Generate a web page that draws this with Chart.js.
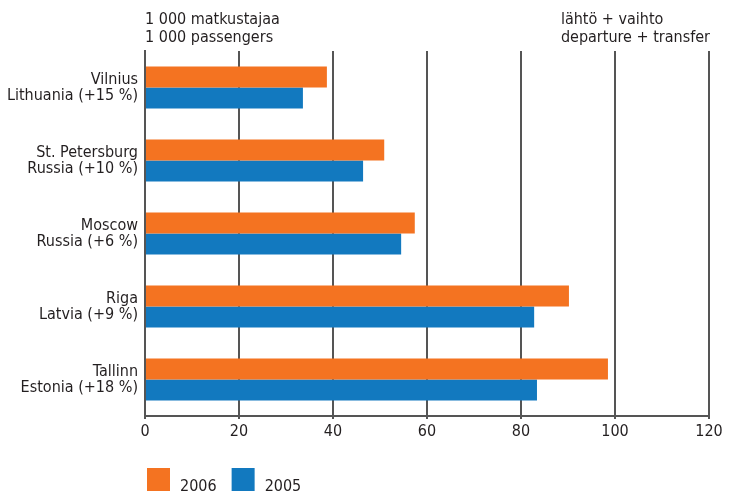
<!DOCTYPE html>
<html>
<head>
<meta charset="utf-8">
<script src="https://cdn.jsdelivr.net/npm/chart.js@4.4.1/dist/chart.umd.min.js"></script>
<style>
  html, body { margin: 0; padding: 0; background: #ffffff; }
  #wrap { width: 743px; height: 497px; position: relative; }
</style>
</head>
<body>
<div id="wrap"><canvas id="c" width="743" height="497"></canvas></div>
<script>
// ---- data ----
const cityNames = ['Vilnius', 'St. Petersburg', 'Moscow', 'Riga', 'Tallinn'];
const countryLabels = ['Lithuania (+15 %)', 'Russia (+10 %)', 'Russia (+6 %)', 'Latvia (+9 %)', 'Estonia (+18 %)'];
const values2006 = [38.7, 50.9, 57.4, 90.2, 98.5];
const values2005 = [33.6, 46.4, 54.5, 82.8, 83.4];
const seriesNames = ['2006', '2005'];
const xTicks = [0, 20, 40, 60, 80, 100, 120];
const headerLeft = ['1 000 matkustajaa', '1 000 passengers'];
const headerRight = ['lähtö + vaihto', 'departure + transfer'];

const FONT = "'Liberation Sans Narrow', 'DejaVu Sans Condensed', 'Roboto Condensed', sans-serif";
const TEXT = '#231f20';
const GRID = '#555555';
const ORANGE = '#f47321';
const BLUE = '#1279bf';

const labels = cityNames.map((c, i) => [c, countryLabels[i]]);

const headerPlugin = {
  id: 'headerText',
  afterDraw(chart) {
    const ctx = chart.ctx;
    const a = chart.chartArea;
    ctx.save();
    ctx.fillStyle = TEXT;
    ctx.font = '16px ' + FONT;
    ctx.textBaseline = 'alphabetic';
    ctx.textAlign = 'left';
    ctx.fillText(headerLeft[0], a.left, 24);
    ctx.fillText(headerLeft[1], a.left, 42);
    const w = Math.max(...headerRight.map(t => ctx.measureText(t).width));
    const x = a.right + 1 - w;
    ctx.fillText(headerRight[0], x, 24);
    ctx.fillText(headerRight[1], x, 42);
    ctx.restore();
  }
};

const legendPlugin = {
  id: 'bottomLegend',
  afterDraw(chart) {
    const ctx = chart.ctx;
    const a = chart.chartArea;
    ctx.save();
    ctx.font = '16px ' + FONT;
    ctx.textBaseline = 'alphabetic';
    ctx.textAlign = 'left';
    let x = a.left + 2;
    chart.data.datasets.forEach(ds => {
      ctx.fillStyle = ds.backgroundColor;
      ctx.fillRect(x, 468, 23, 23);
      ctx.fillStyle = TEXT;
      ctx.fillText(ds.label, x + 33, 491);
      x += 33 + ctx.measureText(ds.label).width + 15;
    });
    ctx.restore();
  }
};

new Chart(document.getElementById('c'), {
  type: 'bar',
  data: {
    labels: labels,
    datasets: [
      { label: seriesNames[0], data: values2006, backgroundColor: ORANGE, borderWidth: 0 },
      { label: seriesNames[1], data: values2005, backgroundColor: BLUE, borderWidth: 0 }
    ]
  },
  options: {
    indexAxis: 'y',
    responsive: false,
    animation: false,
    devicePixelRatio: 1,
    categoryPercentage: 0.575,
    barPercentage: 1.0,
    layout: { padding: { top: 51, right: 34, bottom: 51, left: 0 } },
    plugins: {
      legend: { display: false },
      tooltip: { enabled: false },
      title: { display: false }
    },
    scales: {
      x: {
        type: 'linear',
        min: 0,
        max: 120,
        afterBuildTicks(scale) { scale.ticks = xTicks.map(v => ({ value: v })); },
        afterFit(scale) { scale.height = 30; },
        grid: { color: GRID, lineWidth: 2, drawTicks: true, tickLength: 3, tickColor: GRID },
        border: { display: true, color: GRID, width: 2 },
        ticks: { color: TEXT, font: { family: FONT, size: 16 }, padding: 3, maxRotation: 0 }
      },
      y: {
        type: 'category',
        afterFit(scale) { scale.width = 145; },
        grid: { display: false, drawTicks: false },
        border: { display: true, color: GRID, width: 2 },
        ticks: { color: TEXT, font: { family: FONT, size: 16, lineHeight: '16px' }, padding: 7, crossAlign: 'near' }
      }
    }
  },
  plugins: [headerPlugin, legendPlugin]
});
</script>
</body>
</html>
